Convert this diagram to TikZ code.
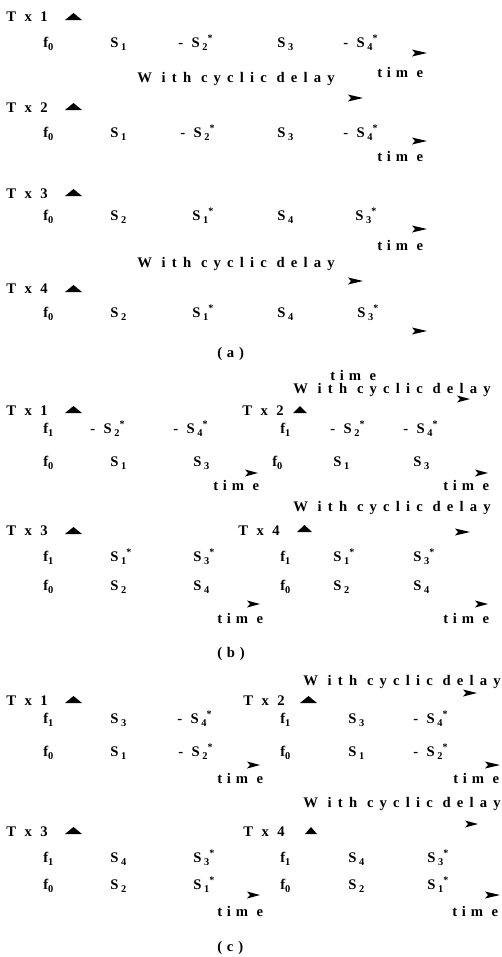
\documentclass[tikz,border=0pt]{standalone}
\usepackage{fontspec}
\newfontfamily\lsf{Liberation Serif}[LetterSpace=33]
\newfontfamily\lsw{Liberation Serif}[LetterSpace=42]
\newcommand{\sbx}[1]{\raisebox{-2.4pt}{\fontsize{7.8}{9}\selectfont #1}}
\newcommand{\st}{\raisebox{4.2pt}{\fontsize{7.5}{9}\selectfont *}}
\newcommand{\Sq}[1]{S\hspace{2pt}\sbx{#1}}
\newcommand{\Fq}[1]{f\sbx{#1}}
\newcommand{\upT}[3]{\fill (#1,#3) -- (#2,#3) -- ({(#1+#2)/2},#3-7) -- cycle;}
\newcommand{\rtT}[3]{\fill (#1,#3-3.5) -- (#2,#3) -- (#1,#3+3.5) -- (#1+3,#3) -- cycle;}
\begin{document}
\begin{tikzpicture}[x=0.75pt,y=-0.75pt,
  lbl/.style={anchor=base west,inner sep=0pt,font=\lsf\bfseries\fontsize{11}{13}\selectfont},
  cdl/.style={lbl,font=\lsw\bfseries\fontsize{11}{13}\selectfont}]
\useasboundingbox (0,0) rectangle (502,957);
% ---------------- (a)
\node[lbl] (a1tx) at (6,21) {T x 1};
\upT{65}{82}{20}
\node[lbl] (a1f) at (43,47) {\Fq{0}};
\node[lbl] (a1s1) at (110,47) {\Sq{1}};
\node[lbl] (a1s2) at (178,47) {- \Sq{2}\st};
\node[lbl] (a1s3) at (277,47) {\Sq{3}};
\node[lbl] (a1s4) at (343,47) {- \Sq{4}\st};
\rtT{412}{427}{53}
\node[lbl] (a1t) at (377,77) {tim e};
\node[cdl] (a2cd) at (137,82) {W ith cyclic delay};
\rtT{348}{363}{98}
\node[lbl] (a2tx) at (6,112) {T x 2};
\upT{65}{82}{110}
\node[lbl] (a2f) at (43,137) {\Fq{0}};
\node[lbl] (a2s1) at (110,137) {\Sq{1}};
\node[lbl] (a2s2) at (180,137) {- \Sq{2}\st};
\node[lbl] (a2s3) at (277,137) {\Sq{3}};
\node[lbl] (a2s4) at (343,137) {- \Sq{4}\st};
\rtT{412}{427}{141}
\node[lbl] (a2t) at (377,161) {tim e};
\node[lbl] (a3tx) at (6,198) {T x 3};
\upT{65}{82}{196}
\node[lbl] (a3f) at (43,220) {\Fq{0}};
\node[lbl] (a3s1) at (110,220) {\Sq{2}};
\node[lbl] (a3s2) at (192,220) {\Sq{1}\st};
\node[lbl] (a3s3) at (277,220) {\Sq{4}};
\node[lbl] (a3s4) at (355,220) {\Sq{3}\st};
\rtT{412}{427}{229}
\node[lbl] (a3t) at (377,250) {tim e};
\node[cdl] (a4cd) at (137,267) {W ith cyclic delay};
\rtT{348}{363}{281}
\node[lbl] (a4tx) at (6,293) {T x 4};
\upT{65}{82}{292}
\node[lbl] (a4f) at (43,317) {\Fq{0}};
\node[lbl] (a4s1) at (110,317) {\Sq{2}};
\node[lbl] (a4s2) at (192,317) {\Sq{1}\st};
\node[lbl] (a4s3) at (277,317) {\Sq{4}};
\node[lbl] (a4s4) at (357,317) {\Sq{3}\st};
\rtT{412}{427}{331}
\node[lbl] (capa) at (217,357) {(a)};
\node[lbl] (a4t) at (330,380) {tim e};
% ---------------- (b)
\node[cdl] (b2cd) at (293,393) {W ith cyclic delay};
\rtT{457}{470}{399}
\node[lbl] (b1tx) at (6,415) {T x 1};
\upT{65}{82}{413}
\node[lbl] (b2tx) at (242,415) {T x 2};
\upT{293}{307}{413}
\node[lbl] (b1f1) at (43,433) {\Fq{1}};
\node[lbl] (b1a) at (90,433) {- \Sq{2}\st};
\node[lbl] (b1b) at (173,433) {- \Sq{4}\st};
\node[lbl] (b2f1) at (280,433) {\Fq{1}};
\node[lbl] (b2a) at (330,433) {- \Sq{2}\st};
\node[lbl] (b2b) at (403,433) {- \Sq{4}\st};
\node[lbl] (b1f0) at (43,466) {\Fq{0}};
\node[lbl] (b1c) at (110,466) {\Sq{1}};
\node[lbl] (b1d) at (193,466) {\Sq{3}};
\node[lbl] (b2f0) at (272,466) {\Fq{0}};
\node[lbl] (b2c) at (333,466) {\Sq{1}};
\node[lbl] (b2d) at (413,466) {\Sq{3}};
\rtT{245}{258}{473}
\rtT{475}{488}{473}
\node[lbl] (b1t) at (213,490) {tim e};
\node[lbl] (b2t) at (443,490) {tim e};
\node[cdl] (b4cd) at (293,511) {W ith cyclic delay};
\rtT{455}{470}{532}
\node[lbl] (b3tx) at (6,535) {T x 3};
\upT{65}{82}{534}
\node[lbl] (b4tx) at (238,535) {T x 4};
\upT{297}{312}{532}
\node[lbl] (b3f1) at (43,561) {\Fq{1}};
\node[lbl] (b3a) at (110,561) {\Sq{1}\st};
\node[lbl] (b3b) at (193,561) {\Sq{3}\st};
\node[lbl] (b4f1) at (280,561) {\Fq{1}};
\node[lbl] (b4a) at (333,561) {\Sq{1}\st};
\node[lbl] (b4b) at (413,561) {\Sq{3}\st};
\node[lbl] (b3f0) at (43,590) {\Fq{0}};
\node[lbl] (b3c) at (110,590) {\Sq{2}};
\node[lbl] (b3d) at (193,590) {\Sq{4}};
\node[lbl] (b4f0) at (280,590) {\Fq{0}};
\node[lbl] (b4c) at (333,590) {\Sq{2}};
\node[lbl] (b4d) at (413,590) {\Sq{4}};
\rtT{247}{260}{604}
\rtT{475}{488}{604}
\node[lbl] (b3t) at (217,623) {tim e};
\node[lbl] (b4t) at (443,623) {tim e};
\node[lbl] (capb) at (217,657) {(b)};
% ---------------- (c)
\node[cdl] (c2cd) at (303,685) {W ith cyclic delay};
\rtT{463}{477}{693}
\node[lbl] (c1tx) at (6,705) {T x 1};
\upT{65}{82}{703}
\node[lbl] (c2tx) at (243,705) {T x 2};
\upT{300}{317}{703}
\node[lbl] (c1f1) at (43,723) {\Fq{1}};
\node[lbl] (c1a) at (110,723) {\Sq{3}};
\node[lbl] (c1b) at (177,723) {- \Sq{4}\st};
\node[lbl] (c2f1) at (280,723) {\Fq{1}};
\node[lbl] (c2a) at (348,723) {\Sq{3}};
\node[lbl] (c2b) at (413,723) {- \Sq{4}\st};
\node[lbl] (c1f0) at (43,756) {\Fq{0}};
\node[lbl] (c1c) at (110,756) {\Sq{1}};
\node[lbl] (c1d) at (178,756) {- \Sq{2}\st};
\node[lbl] (c2f0) at (280,756) {\Fq{0}};
\node[lbl] (c2c) at (348,756) {\Sq{1}};
\node[lbl] (c2d) at (413,756) {- \Sq{2}\st};
\rtT{247}{260}{765}
\rtT{485}{500}{765}
\node[lbl] (c1t) at (217,783) {tim e};
\node[lbl] (c2t) at (453,783) {tim e};
\node[cdl] (c4cd) at (303,807) {W ith cyclic delay};
\rtT{465}{478}{824}
\node[lbl] (c3tx) at (6,836) {T x 3};
\upT{65}{82}{834}
\node[lbl] (c4tx) at (243,836) {T x 4};
\upT{305}{317}{834}
\node[lbl] (c3f1) at (43,862) {\Fq{1}};
\node[lbl] (c3a) at (110,862) {\Sq{4}};
\node[lbl] (c3b) at (193,862) {\Sq{3}\st};
\node[lbl] (c4f1) at (280,862) {\Fq{1}};
\node[lbl] (c4a) at (348,862) {\Sq{4}};
\node[lbl] (c4b) at (427,862) {\Sq{3}\st};
\node[lbl] (c3f0) at (43,889) {\Fq{0}};
\node[lbl] (c3c) at (110,889) {\Sq{2}};
\node[lbl] (c3d) at (193,889) {\Sq{1}\st};
\node[lbl] (c4f0) at (280,889) {\Fq{0}};
\node[lbl] (c4c) at (348,889) {\Sq{2}};
\node[lbl] (c4d) at (427,889) {\Sq{1}\st};
\rtT{247}{260}{895}
\rtT{485}{500}{895}
\node[lbl] (c3t) at (217,916) {tim e};
\node[lbl] (c4t) at (452,916) {tim e};
\node[lbl] (capc) at (217,951) {(c)};
\end{tikzpicture}
\end{document}
